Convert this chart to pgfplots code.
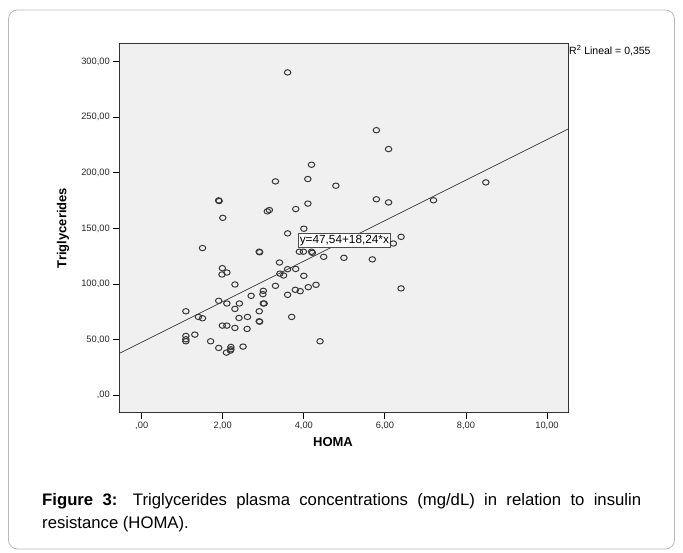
\documentclass[border=0pt]{standalone}
\usepackage{fontspec}
\setmainfont{Liberation Sans}
\usepackage{pgfplots}
\usepackage{pgfplotstable}
\pgfplotsset{compat=1.18}
\pgfplotstableread{
x y
1.09 75.4
1.09 53.2
1.09 50.2
1.09 48.4
1.31 54.4
1.40 70.3
1.50 69.1
1.50 132.3
1.70 48.4
1.90 175.2
1.91 174.6
1.90 84.8
1.90 42.4
1.99 114.2
1.98 108.5
2.10 110.3
2.00 159.5
1.99 62.5
2.10 62.5
2.10 82.4
2.09 38.2
2.20 43.3
2.20 41.2
2.19 40.0
2.30 99.5
2.30 77.5
2.30 60.4
2.41 82.4
2.40 69.4
2.50 43.6
2.60 59.5
2.61 70.3
2.70 89.3
2.90 129.0
2.91 128.5
2.90 75.4
2.90 66.4
2.91 66.0
3.00 93.8
2.99 90.8
3.00 82.4
3.02 82.4
3.10 165.3
3.15 166.5
3.30 192.3
3.30 98.3
3.40 119.3
3.41 109.3
3.50 107.6
3.60 290.4
3.60 145.5
3.60 113.3
3.60 90.2
3.70 70.3
3.80 167.4
3.80 113.5
3.79 94.7
3.91 93.5
3.89 129.0
3.99 129.0
4.00 149.7
4.00 107.3
4.10 194.4
4.10 172.3
4.11 97.1
4.19 207.3
4.19 129.0
4.21 128.0
4.30 99.2
4.40 48.4
4.49 124.4
4.79 188.4
4.99 123.5
5.69 122.1
5.79 238.4
5.79 176.2
6.09 221.4
6.09 173.4
6.21 136.4
6.40 142.4
6.40 96.0
7.20 175.3
8.49 191.4
}\homadata
\begin{document}
\begin{tikzpicture}
\useasboundingbox (0pt,0pt) rectangle (683pt,552pt);
\draw[gray!55, line width=0.8pt, rounded corners=9pt] (8.5pt,3pt) rectangle (674.5pt,542pt);
\begin{axis}[
  at={(119.3pt,139.3pt)}, anchor=south west,
  scale only axis, width=449.4pt, height=369.4pt,
  xmin=-0.553, xmax=10.535, ymin=-15.9, ymax=316.6,
  axis background/.style={fill=black!6},
  axis line style={black!80, line width=1pt},
  xtick={0,2,4,6,8,10},
  xticklabels={{,00},{2,00},{4,00},{6,00},{8,00},{10,00}},
  ytick={0,50,100,150,200,250,300},
  yticklabels={{,00},{50,00},{100,00},{150,00},{200,00},{250,00},{300,00}},
  tick align=outside, major tick length=6pt,
  tick style={black, line width=0.8pt},
  xtick pos=lower, ytick pos=left,
  tick label style={font=\fontsize{9.3}{10}\selectfont, text=black!85},
  /pgf/number format/assume math mode=true,
  xlabel={HOMA}, ylabel={Triglycerides},
  every axis x label/.style={at={(axis description cs:0.4755,-0.08)}, anchor=center,
     font=\fontsize{13}{14}\selectfont\bfseries},
  every axis y label/.style={at={(axis description cs:-0.125,0.5)}, rotate=90, anchor=center,
     font=\fontsize{13}{14}\selectfont\bfseries},
]
\addplot[black!80, line width=0.7pt] coordinates {(-0.553,37.45) (10.535,239.7)};
\addplot[only marks, mark=o, mark size=2.7pt,
  mark options={xscale=1.2, line width=1pt, draw=black!78}] table[x=x,y=y] {\homadata};
\node[draw=black!70, fill=white, inner sep=1.5pt, line width=0.6pt,
  font=\fontsize{11.8}{12}\selectfont] at (axis cs:5.0,139) {y=47,54+18,24*x};
\end{axis}
\node[anchor=west, inner sep=0pt, font=\fontsize{10.5}{11}\selectfont] at (569pt,501pt) {R\textsuperscript{2} Lineal = 0,355};
\node[anchor=base west, inner sep=0pt] at (42pt,47pt) {\fontsize{16.7}{18}\selectfont\makebox[599pt][s]{\textbf{Figure 3:} Triglycerides plasma concentrations (mg/dL) in relation to insulin}};
\node[anchor=base west, inner sep=0pt, font=\fontsize{16.7}{18}\selectfont] at (42pt,24pt) {resistance (HOMA).};
\end{tikzpicture}
\end{document}
